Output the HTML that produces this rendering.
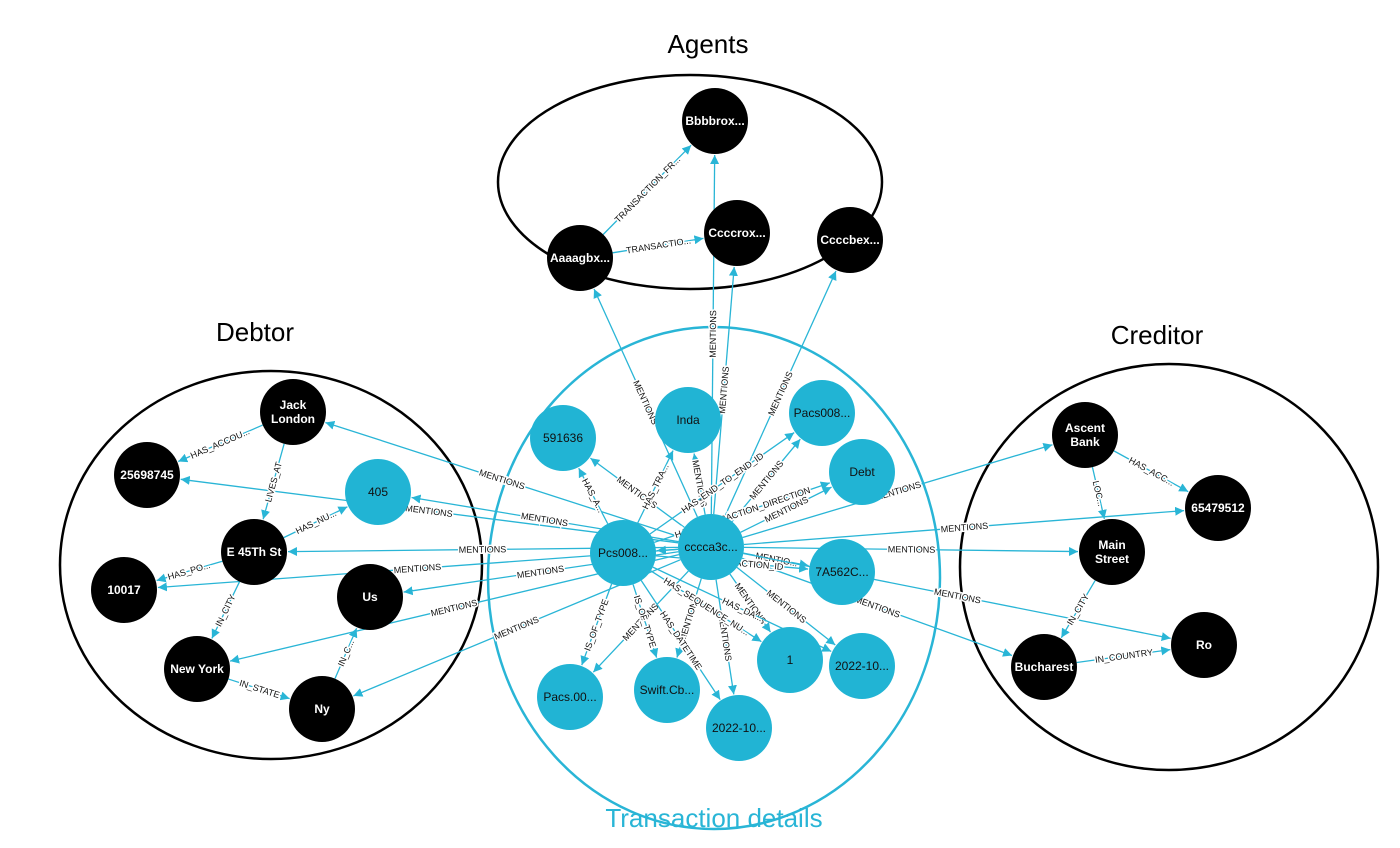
<!DOCTYPE html>
<html><head><meta charset="utf-8"><style>
html,body{margin:0;padding:0;background:#fff;}
svg{display:block;font-family:"Liberation Sans",sans-serif;}
</style></head><body>
<svg id="s" width="1400" height="848" viewBox="0 0 1400 848" xmlns="http://www.w3.org/2000/svg">
<defs><marker id="a" viewBox="0 0 10 10" refX="10" refY="5" markerWidth="9" markerHeight="9" markerUnits="userSpaceOnUse" orient="auto"><path d="M0,0L10,5L0,10z" fill="#29b5d6"/></marker></defs>
<text x="708" y="53" font-size="26" text-anchor="middle" fill="#000">Agents</text>
<text x="255" y="341" font-size="26" text-anchor="middle" fill="#000">Debtor</text>
<text x="1157" y="344" font-size="26" text-anchor="middle" fill="#000">Creditor</text>
<text x="714" y="827" font-size="26" text-anchor="middle" fill="#29b5d6">Transaction details</text>
<ellipse cx="690" cy="182" rx="192" ry="107" fill="none" stroke="#000" stroke-width="2.5"/>
<ellipse cx="271" cy="565" rx="211" ry="194" fill="none" stroke="#000" stroke-width="2.5"/>
<ellipse cx="714" cy="578" rx="226" ry="251" fill="none" stroke="#29b5d6" stroke-width="2.5"/>
<ellipse cx="1169" cy="567" rx="209" ry="203" fill="none" stroke="#000" stroke-width="2.5"/>
<g id="e"></g><g id="n"></g>
</svg>
<script>
var N={
bb:[715,121,"Bbbbrox...",0],aa:[580,258,"Aaaagbx...",0],cr:[737,233,"Ccccrox...",0],cb:[850,240,"Ccccbex...",0],
jl:[293,412,"Jack|London",0],a2:[147,475,"25698745",0],f4:[378,492,"405",1],e4:[254,552,"E 45Th St",0],
z1:[124,590,"10017",0],us:[370,597,"Us",0],ny:[197,669,"New York",0],nys:[322,709,"Ny",0],
s5:[563,438,"591636",1],in:[688,420,"Inda",1],pa:[822,413,"Pacs008...",1],de:[862,472,"Debt",1],
P:[623,553,"Pcs008...",1],C:[711,547,"cccca3c...",1],a7:[842,572,"7A562C...",1],
po:[570,697,"Pacs.00...",1],sw:[667,690,"Swift.Cb...",1],d2:[739,728,"2022-10...",1],on:[790,660,"1",1],d1:[862,666,"2022-10...",1],
ab:[1085,435,"Ascent|Bank",0],a6:[1218,508,"65479512",0],ms:[1112,552,"Main|Street",0],bu:[1044,667,"Bucharest",0],ro:[1204,645,"Ro",0]};
var M="MENTIONS",E=[
["C","aa",M],["C","bb",M],["C","cr",M],["C","cb",M],["C","in",M],["C","pa",M],["C","de",M],["C","a7","MENTIO..."],
["C","ab",M],["C","a6",M],["C","ms",M],["C","bu",M],["C","ro",M],["C","on",M],["C","d1",M],["C","d2",M],["C","sw",M],["C","po",M],["C","s5",M],
["C","jl",M],["C","a2",M],["C","f4",M],["C","e4",M],["C","z1",M],["C","us",M],["C","ny",M],["C","nys",M],["C","P",""],
["P","s5","HAS_A..."],["P","in","HAS_TRA..."],["P","pa","HAS_END_TO_END_ID"],["P","de","HAS_TRANSACTION_DIRECTION"],["P","a7","HAS_TRANSACTION_ID"],
["P","on","HAS_SEQUENCE_NU..."],["P","d1","HAS_DA..."],["P","d2","HAS_DATETIME"],["P","sw","IS_OF_TYPE"],["P","po","IS_OF_TYPE"],
["jl","a2","HAS_ACCOU..."],["jl","e4","LIVES_AT"],["e4","f4","HAS_NU..."],["e4","z1","HAS_PO..."],["e4","ny","IN_CITY"],["ny","nys","IN_STATE"],["nys","us","IN_C..."],
["aa","bb","TRANSACTION_FR..."],["aa","cr","TRANSACTIO..."],["ab","a6","HAS_ACC..."],["ab","ms","LOC..."],["ms","bu","IN_CITY"],["bu","ro","IN_COUNTRY"]];
var ns="http://www.w3.org/2000/svg",ge=document.getElementById("e"),gn=document.getElementById("n");
function el(t,a,p){var e=document.createElementNS(ns,t);for(var k in a)e.setAttribute(k,a[k]);p.appendChild(e);return e;}
var R=33;
E.forEach(function(d){var s=N[d[0]],t=N[d[1]],dx=t[0]-s[0],dy=t[1]-s[1],L=Math.hypot(dx,dy),ux=dx/L,uy=dy/L;
el("line",{x1:s[0]+ux*R,y1:s[1]+uy*R,x2:t[0]-ux*(R+1),y2:t[1]-uy*(R+1),stroke:"#29b5d6","stroke-width":1.3,"marker-end":"url(#a)"},ge);
if(d[2]){var mx=(s[0]+t[0])/2,my=(s[1]+t[1])/2,an=Math.atan2(dy,dx)*180/Math.PI;if(an>90)an-=180;if(an<-90)an+=180;
var tx=el("text",{x:mx,y:my+3,"font-size":9,"text-anchor":"middle",fill:"#111",stroke:"#fff","stroke-width":3,"paint-order":"stroke",transform:"rotate("+an.toFixed(1)+" "+mx+" "+my+")"},ge);tx.textContent=d[2];}});
for(var k in N){var d=N[k];el("circle",{cx:d[0],cy:d[1],r:R,fill:d[3]?"#21b4d4":"#000"},gn);
var ls=d[2].split("|");ls.forEach(function(l,i){var t=el("text",{x:d[0],y:d[1]+4+(i-(ls.length-1)/2)*14,"font-size":12,"text-anchor":"middle",fill:d[3]?"#111":"#fff","font-weight":d[3]?"normal":"bold"},gn);t.textContent=l;});}
</script>
</body></html>
